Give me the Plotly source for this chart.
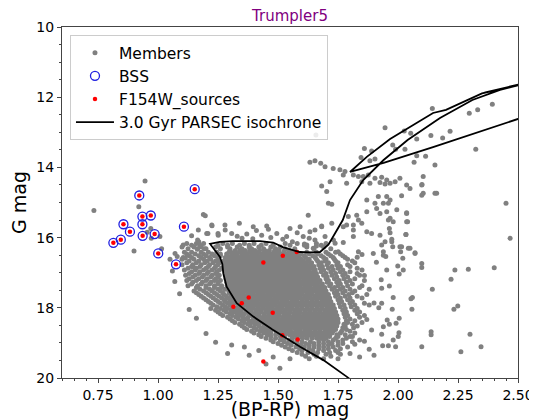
import plotly.graph_objects as go

# ---------------- data ----------------
# Blue stragglers
bss_bp = [0.922, 1.153, 0.935, 0.970, 0.856, 0.935, 1.108, 0.883, 0.986, 0.936, 0.845, 0.814, 1.001, 1.075]
bss_g = [14.80, 14.62, 15.40, 15.37, 15.62, 15.62, 15.69, 15.83, 15.90, 15.95, 16.06, 16.15, 16.45, 16.76]

# F154W sources that are not BSS
f154_extra_bp = [1.520, 1.578, 1.439, 1.378, 1.314, 1.349, 1.478, 1.518, 1.582, 1.439]
f154_extra_g = [16.52, 16.41, 16.71, 17.71, 17.97, 17.87, 18.14, 18.78, 18.90, 19.53]

# Solid part of the main-sequence / turn-off cloud (one row per magnitude band)
solid_rows = [
    (16.37, [1.30, 1.322, 1.341, 1.363, 1.382, 1.404, 1.423, 1.445, 1.464, 1.486, 1.505, 1.527, 1.548]),
    (16.47, [1.286, 1.308, 1.327, 1.349, 1.368, 1.39, 1.409, 1.431, 1.45, 1.472, 1.491, 1.513, 1.532, 1.554, 1.575]),
    (16.57, [1.28, 1.299, 1.321, 1.34, 1.362, 1.381, 1.403, 1.422, 1.444, 1.463, 1.485, 1.504, 1.526, 1.545, 1.567, 1.589]),
    (16.67, [1.275, 1.297, 1.316, 1.338, 1.357, 1.379, 1.398, 1.42, 1.439, 1.461, 1.48, 1.502, 1.521, 1.543, 1.562, 1.584, 1.606]),
    (16.77, [1.276, 1.295, 1.317, 1.336, 1.358, 1.377, 1.399, 1.418, 1.44, 1.459, 1.481, 1.50, 1.522, 1.541, 1.563, 1.582, 1.604, 1.62]),
    (16.87, [1.279, 1.301, 1.32, 1.342, 1.361, 1.383, 1.402, 1.424, 1.443, 1.465, 1.484, 1.506, 1.525, 1.547, 1.566, 1.588, 1.607, 1.627]),
    (16.97, [1.28, 1.299, 1.321, 1.34, 1.362, 1.381, 1.403, 1.422, 1.444, 1.463, 1.485, 1.504, 1.526, 1.545, 1.567, 1.586, 1.608, 1.632]),
    (17.07, [1.281, 1.303, 1.322, 1.344, 1.363, 1.385, 1.404, 1.426, 1.445, 1.467, 1.486, 1.508, 1.527, 1.549, 1.568, 1.59, 1.609, 1.631, 1.64]),
    (17.17, [1.283, 1.302, 1.324, 1.343, 1.365, 1.384, 1.406, 1.425, 1.447, 1.466, 1.488, 1.507, 1.529, 1.548, 1.57, 1.589, 1.611, 1.63, 1.646]),
    (17.27, [1.286, 1.308, 1.327, 1.349, 1.368, 1.39, 1.409, 1.431, 1.45, 1.472, 1.491, 1.513, 1.532, 1.554, 1.573, 1.595, 1.614, 1.636, 1.655]),
    (17.37, [1.288, 1.307, 1.329, 1.348, 1.37, 1.389, 1.411, 1.43, 1.452, 1.471, 1.493, 1.512, 1.534, 1.553, 1.575, 1.594, 1.616, 1.635, 1.657, 1.665]),
    (17.47, [1.291, 1.313, 1.332, 1.354, 1.373, 1.395, 1.414, 1.436, 1.455, 1.477, 1.496, 1.518, 1.537, 1.559, 1.578, 1.60, 1.619, 1.641, 1.66, 1.675]),
    (17.57, [1.296, 1.315, 1.337, 1.356, 1.378, 1.397, 1.419, 1.438, 1.46, 1.479, 1.501, 1.52, 1.542, 1.561, 1.583, 1.602, 1.624, 1.643, 1.665, 1.683]),
    (17.67, [1.305, 1.327, 1.346, 1.368, 1.387, 1.409, 1.428, 1.45, 1.469, 1.491, 1.51, 1.532, 1.551, 1.573, 1.592, 1.614, 1.633, 1.655, 1.674, 1.69]),
    (17.77, [1.315, 1.334, 1.356, 1.375, 1.397, 1.416, 1.438, 1.457, 1.479, 1.498, 1.52, 1.539, 1.561, 1.58, 1.602, 1.621, 1.643, 1.662, 1.684, 1.70]),
    (17.87, [1.325, 1.347, 1.366, 1.388, 1.407, 1.429, 1.448, 1.47, 1.489, 1.511, 1.53, 1.552, 1.571, 1.593, 1.612, 1.634, 1.653, 1.675, 1.694, 1.705]),
    (17.97, [1.335, 1.354, 1.376, 1.395, 1.417, 1.436, 1.458, 1.477, 1.499, 1.518, 1.54, 1.559, 1.581, 1.60, 1.622, 1.641, 1.663, 1.682, 1.704, 1.71]),
    (18.07, [1.345, 1.367, 1.386, 1.408, 1.427, 1.449, 1.468, 1.49, 1.509, 1.531, 1.55, 1.572, 1.591, 1.613, 1.632, 1.654, 1.673, 1.695, 1.714]),
    (18.17, [1.36, 1.379, 1.401, 1.42, 1.442, 1.461, 1.483, 1.502, 1.524, 1.543, 1.565, 1.584, 1.606, 1.625, 1.647, 1.666, 1.688, 1.707, 1.725]),
    (18.27, [1.375, 1.397, 1.416, 1.438, 1.457, 1.479, 1.498, 1.52, 1.539, 1.561, 1.58, 1.602, 1.621, 1.643, 1.662, 1.684, 1.703, 1.725]),
    (18.37, [1.395, 1.414, 1.436, 1.455, 1.477, 1.496, 1.518, 1.537, 1.559, 1.578, 1.60, 1.619, 1.641, 1.66, 1.682, 1.701, 1.723, 1.73]),
    (18.47, [1.42, 1.442, 1.461, 1.483, 1.502, 1.524, 1.543, 1.565, 1.584, 1.606, 1.625, 1.647, 1.666, 1.688, 1.707, 1.728]),
    (18.57, [1.445, 1.464, 1.486, 1.505, 1.527, 1.546, 1.568, 1.587, 1.609, 1.628, 1.65, 1.669, 1.691, 1.71, 1.725]),
    (18.67, [1.47, 1.492, 1.511, 1.533, 1.552, 1.574, 1.593, 1.615, 1.634, 1.656, 1.675, 1.697, 1.715]),
    (18.77, [1.53, 1.549, 1.571, 1.59, 1.612, 1.631, 1.653, 1.672, 1.694, 1.705]),
    (18.87, [1.58, 1.602, 1.621, 1.643, 1.662, 1.68]),
]

# Interleaved bands of the solid part
solid_rows_b = [
    (16.42, [1.296, 1.317, 1.339, 1.358, 1.381, 1.401, 1.42, 1.443, 1.462, 1.484, 1.503, 1.525, 1.546, 1.563]),
    (16.52, [1.29, 1.311, 1.33, 1.352, 1.373, 1.392, 1.414, 1.435, 1.454, 1.476, 1.497, 1.516, 1.538, 1.559, 1.58]),
    (16.62, [1.285, 1.306, 1.328, 1.347, 1.369, 1.39, 1.409, 1.431, 1.452, 1.471, 1.493, 1.514, 1.533, 1.555, 1.576, 1.597]),
    (16.72, [1.283, 1.304, 1.326, 1.345, 1.367, 1.388, 1.407, 1.429, 1.45, 1.469, 1.491, 1.512, 1.531, 1.553, 1.574, 1.593, 1.613]),
    (16.82, [1.285, 1.308, 1.329, 1.349, 1.37, 1.391, 1.411, 1.432, 1.453, 1.473, 1.494, 1.515, 1.535, 1.556, 1.577, 1.597, 1.617]),
    (16.92, [1.288, 1.309, 1.331, 1.351, 1.372, 1.393, 1.413, 1.434, 1.455, 1.475, 1.496, 1.517, 1.537, 1.558, 1.579, 1.599, 1.62]),
    (17.02, [1.29, 1.312, 1.333, 1.353, 1.374, 1.395, 1.415, 1.436, 1.457, 1.477, 1.498, 1.519, 1.539, 1.56, 1.581, 1.601, 1.622, 1.636]),
    (17.12, [1.292, 1.313, 1.334, 1.355, 1.376, 1.396, 1.417, 1.438, 1.458, 1.479, 1.50, 1.52, 1.541, 1.562, 1.582, 1.603, 1.624, 1.642]),
    (17.22, [1.294, 1.316, 1.337, 1.357, 1.378, 1.399, 1.419, 1.44, 1.461, 1.481, 1.502, 1.523, 1.543, 1.564, 1.585, 1.605, 1.626, 1.647]),
    (17.32, [1.297, 1.318, 1.339, 1.36, 1.381, 1.401, 1.422, 1.443, 1.463, 1.484, 1.505, 1.525, 1.546, 1.567, 1.587, 1.608, 1.629, 1.65]),
    (17.42, [1.30, 1.321, 1.342, 1.363, 1.383, 1.404, 1.425, 1.445, 1.466, 1.487, 1.507, 1.528, 1.549, 1.569, 1.59, 1.611, 1.631, 1.652, 1.67]),
    (17.52, [1.303, 1.324, 1.345, 1.366, 1.386, 1.407, 1.428, 1.448, 1.469, 1.49, 1.51, 1.531, 1.552, 1.572, 1.593, 1.614, 1.634, 1.655, 1.676]),
    (17.62, [1.31, 1.331, 1.352, 1.373, 1.393, 1.414, 1.435, 1.455, 1.476, 1.497, 1.517, 1.538, 1.559, 1.579, 1.60, 1.621, 1.641, 1.662, 1.683]),
    (17.72, [1.32, 1.341, 1.362, 1.382, 1.403, 1.424, 1.444, 1.465, 1.486, 1.506, 1.527, 1.548, 1.568, 1.589, 1.61, 1.63, 1.651, 1.672, 1.693]),
    (17.82, [1.33, 1.351, 1.372, 1.392, 1.413, 1.434, 1.454, 1.475, 1.496, 1.516, 1.537, 1.558, 1.578, 1.599, 1.62, 1.64, 1.661, 1.682, 1.70]),
    (17.92, [1.34, 1.361, 1.382, 1.402, 1.423, 1.444, 1.464, 1.485, 1.506, 1.526, 1.547, 1.568, 1.588, 1.609, 1.63, 1.65, 1.671, 1.692, 1.708]),
    (18.02, [1.352, 1.373, 1.393, 1.414, 1.435, 1.455, 1.476, 1.497, 1.517, 1.538, 1.559, 1.579, 1.60, 1.621, 1.641, 1.662, 1.683, 1.703, 1.716]),
    (18.12, [1.366, 1.387, 1.407, 1.428, 1.449, 1.469, 1.49, 1.511, 1.531, 1.552, 1.573, 1.593, 1.614, 1.635, 1.655, 1.676, 1.697, 1.717]),
    (18.22, [1.381, 1.402, 1.422, 1.443, 1.464, 1.484, 1.505, 1.526, 1.546, 1.567, 1.588, 1.608, 1.629, 1.65, 1.67, 1.691, 1.712, 1.727]),
    (18.32, [1.40, 1.421, 1.441, 1.462, 1.483, 1.503, 1.524, 1.545, 1.565, 1.586, 1.607, 1.627, 1.648, 1.669, 1.689, 1.71, 1.728]),
    (18.42, [1.425, 1.446, 1.466, 1.487, 1.508, 1.528, 1.549, 1.57, 1.59, 1.611, 1.632, 1.652, 1.673, 1.694, 1.714]),
    (18.52, [1.45, 1.471, 1.491, 1.512, 1.533, 1.553, 1.574, 1.595, 1.615, 1.636, 1.657, 1.677, 1.698, 1.719]),
    (18.62, [1.49, 1.511, 1.531, 1.552, 1.573, 1.593, 1.614, 1.635, 1.655, 1.676, 1.697, 1.712]),
    (18.72, [1.52, 1.54, 1.561, 1.582, 1.602, 1.623, 1.644, 1.664, 1.685, 1.703]),
    (18.82, [1.56, 1.58, 1.601, 1.622, 1.642, 1.663, 1.684, 1.695]),
]

# Speckled outer parts of the same cloud
speckle_rows = [
    (16.17, [1.12, 1.16, 1.19, 1.27, 1.31, 1.36, 1.40, 1.45, 1.53, 1.58, 1.66, 1.70]),
    (16.27, [1.10, 1.15, 1.18, 1.24, 1.29, 1.33, 1.38, 1.42, 1.47, 1.51, 1.62, 1.69]),
    (16.42, [1.11, 1.14, 1.18, 1.21, 1.245, 1.58, 1.62, 1.66, 1.70, 1.74]),
    (16.52, [1.13, 1.17, 1.20, 1.235, 1.26, 1.61, 1.645, 1.68, 1.72, 1.77]),
    (16.62, [1.10, 1.15, 1.19, 1.22, 1.25, 1.63, 1.66, 1.70, 1.735, 1.79]),
    (16.72, [1.12, 1.16, 1.195, 1.23, 1.255, 1.64, 1.68, 1.71, 1.75, 1.82]),
    (16.82, [1.14, 1.175, 1.21, 1.24, 1.65, 1.685, 1.725, 1.76, 1.80]),
    (16.92, [1.11, 1.155, 1.19, 1.225, 1.255, 1.655, 1.69, 1.73, 1.77, 1.85]),
    (17.02, [1.13, 1.17, 1.205, 1.24, 1.66, 1.70, 1.74, 1.78, 1.83]),
    (17.12, [1.145, 1.185, 1.22, 1.25, 1.665, 1.705, 1.745, 1.79]),
    (17.22, [1.12, 1.16, 1.20, 1.235, 1.26, 1.675, 1.71, 1.755, 1.80, 1.86]),
    (17.32, [1.14, 1.18, 1.215, 1.25, 1.685, 1.72, 1.76, 1.81]),
    (17.42, [1.16, 1.20, 1.235, 1.265, 1.695, 1.735, 1.77, 1.84]),
    (17.52, [1.15, 1.19, 1.225, 1.26, 1.70, 1.745, 1.78, 1.82]),
    (17.62, [1.17, 1.21, 1.245, 1.275, 1.71, 1.75, 1.795, 1.87]),
    (17.72, [1.19, 1.23, 1.265, 1.29, 1.715, 1.76, 1.80, 1.85]),
    (17.82, [1.21, 1.25, 1.28, 1.30, 1.72, 1.765, 1.81]),
    (17.92, [1.23, 1.27, 1.30, 1.73, 1.775, 1.82, 1.88]),
    (18.02, [1.22, 1.26, 1.29, 1.32, 1.735, 1.78, 1.83]),
    (18.12, [1.25, 1.285, 1.315, 1.34, 1.74, 1.785, 1.84]),
    (18.22, [1.27, 1.31, 1.34, 1.745, 1.79, 1.86]),
    (18.32, [1.30, 1.335, 1.365, 1.75, 1.80]),
    (18.42, [1.32, 1.36, 1.39, 1.75, 1.79, 1.85]),
    (18.52, [1.35, 1.385, 1.42, 1.745, 1.78, 1.83]),
    (18.62, [1.37, 1.41, 1.44, 1.74, 1.785]),
    (18.72, [1.40, 1.44, 1.47, 1.50, 1.725, 1.76, 1.82]),
    (18.82, [1.43, 1.47, 1.51, 1.715, 1.75, 1.80]),
    (18.92, [1.47, 1.51, 1.545, 1.58, 1.69, 1.73, 1.77, 1.84]),
    (19.02, [1.50, 1.54, 1.58, 1.615, 1.65, 1.69, 1.725, 1.77]),
    (19.12, [1.53, 1.575, 1.61, 1.65, 1.69, 1.73, 1.79]),
    (19.22, [1.56, 1.60, 1.645, 1.69, 1.74]),
    (19.32, [1.60, 1.65, 1.70, 1.76]),
    (19.45, [1.63, 1.69, 1.75]),
]

# Second set of speckled bands, between the first ones
speckle_rows_b = [
    (16.22, [1.14, 1.175, 1.25, 1.29, 1.34, 1.38, 1.43, 1.48, 1.55, 1.61, 1.68]),
    (16.32, [1.125, 1.165, 1.20, 1.26, 1.30, 1.35, 1.39, 1.44, 1.49, 1.53, 1.57, 1.65, 1.72]),
    (16.47, [1.12, 1.155, 1.19, 1.225, 1.26, 1.595, 1.63, 1.665, 1.71, 1.76]),
    (16.57, [1.105, 1.14, 1.18, 1.215, 1.25, 1.615, 1.655, 1.69, 1.73, 1.78]),
    (16.67, [1.13, 1.17, 1.205, 1.24, 1.625, 1.665, 1.695, 1.74, 1.81]),
    (16.77, [1.10, 1.145, 1.18, 1.215, 1.25, 1.635, 1.67, 1.705, 1.745, 1.79]),
    (16.87, [1.125, 1.16, 1.20, 1.235, 1.265, 1.64, 1.675, 1.71, 1.75, 1.83]),
    (16.97, [1.14, 1.175, 1.21, 1.245, 1.65, 1.68, 1.72, 1.76, 1.80]),
    (17.07, [1.115, 1.155, 1.19, 1.225, 1.255, 1.655, 1.69, 1.725, 1.77, 1.84]),
    (17.17, [1.13, 1.17, 1.205, 1.24, 1.66, 1.70, 1.735, 1.775, 1.82]),
    (17.27, [1.145, 1.185, 1.22, 1.25, 1.67, 1.705, 1.745, 1.785]),
    (17.37, [1.125, 1.165, 1.20, 1.235, 1.265, 1.68, 1.715, 1.75, 1.79, 1.85]),
    (17.47, [1.175, 1.215, 1.25, 1.28, 1.69, 1.725, 1.76, 1.80]),
    (17.57, [1.16, 1.20, 1.235, 1.27, 1.695, 1.735, 1.77, 1.81]),
    (17.67, [1.18, 1.22, 1.255, 1.285, 1.70, 1.74, 1.78, 1.83]),
    (17.77, [1.20, 1.24, 1.275, 1.30, 1.71, 1.75, 1.79]),
    (17.87, [1.22, 1.26, 1.29, 1.315, 1.715, 1.755, 1.80, 1.86]),
    (17.97, [1.245, 1.28, 1.31, 1.72, 1.76, 1.805]),
    (18.07, [1.24, 1.275, 1.305, 1.33, 1.725, 1.77, 1.82]),
    (18.17, [1.26, 1.30, 1.33, 1.35, 1.735, 1.775, 1.83]),
    (18.27, [1.29, 1.325, 1.355, 1.74, 1.78, 1.84]),
    (18.37, [1.31, 1.35, 1.38, 1.74, 1.785, 1.82]),
    (18.47, [1.34, 1.375, 1.405, 1.74, 1.775, 1.81]),
    (18.57, [1.36, 1.40, 1.43, 1.735, 1.77, 1.815]),
    (18.67, [1.39, 1.425, 1.455, 1.73, 1.765, 1.80]),
    (18.77, [1.42, 1.455, 1.49, 1.515, 1.715, 1.745, 1.78]),
    (18.87, [1.45, 1.49, 1.525, 1.56, 1.70, 1.74, 1.785]),
    (18.97, [1.48, 1.525, 1.56, 1.60, 1.635, 1.67, 1.71, 1.75, 1.81]),
    (19.07, [1.515, 1.555, 1.595, 1.63, 1.67, 1.71, 1.75]),
    (19.17, [1.545, 1.59, 1.63, 1.67, 1.71, 1.76]),
    (19.27, [1.58, 1.625, 1.665, 1.715, 1.75]),
    (19.38, [1.615, 1.66, 1.72]),
]

# Sparse members: blue region, above sub-giant branch, giants, field and halo
blue_members = [(0.946, 14.39), (0.733, 15.23), (0.92, 15.12), (0.97, 15.74), (0.955, 15.85), (1.008, 15.97),
                (0.972, 16.02), (0.90, 16.38), (1.015, 16.32), (1.071, 16.45), (1.08, 16.54), (1.114, 16.58),
                (1.105, 16.21), (1.189, 15.34), (1.197, 15.38), (1.225, 15.66), (1.168, 15.78), (1.165, 16.07),
                (1.208, 15.88), (1.25, 15.88), (1.193, 16.32), (1.164, 16.33), (1.147, 16.83)]

subgiant_members = [(1.224, 15.64), (1.279, 15.64), (1.339, 15.59), (1.397, 15.69), (1.453, 15.67), (1.55, 15.74),
                    (1.592, 15.69), (1.633, 15.83), (1.682, 15.67), (1.724, 15.59), (1.786, 15.64), (1.814, 15.78),
                    (1.203, 15.88), (1.251, 15.93), (1.307, 15.88), (1.37, 15.90), (1.432, 15.93), (1.495, 15.88),
                    (1.536, 15.97), (1.605, 15.97), (1.654, 16.07), (1.696, 15.97), (1.731, 16.07), (1.35, 16.02),
                    (1.47, 16.00), (1.56, 16.12), (1.61, 16.18), (1.66, 16.24), (1.52, 16.05), (1.28, 15.78),
                    (1.41, 15.80), (1.58, 15.86), (1.46, 15.76), (1.33, 15.96), (1.63, 16.02), (1.14, 15.95),
                    (1.17, 16.12), (1.395, 16.03)]

giant_members = [(2.143, 12.32), (2.297, 12.46), (2.332, 12.36), (2.393, 12.20), (1.946, 12.87), (2.026, 12.96),
                 (2.053, 13.03), (2.078, 13.19), (2.137, 13.09), (2.186, 13.16), (2.217, 12.97), (2.324, 13.48),
                 (1.658, 13.08), (1.86, 13.46), (1.89, 13.53), (1.978, 13.36), (1.99, 13.48), (2.029, 13.48),
                 (1.846, 13.72), (1.883, 13.81), (1.904, 13.76), (2.078, 13.67), (2.115, 13.68), (2.154, 13.93),
                 (2.067, 13.85), (1.633, 13.85), (1.654, 13.81), (1.678, 13.88), (1.696, 13.98), (1.73, 14.03),
                 (1.758, 14.07), (1.779, 14.12), (1.814, 14.22), (1.835, 14.26), (1.855, 14.26), (1.876, 14.22),
                 (1.904, 14.31), (1.932, 14.28), (1.953, 14.36), (1.967, 14.45), (1.988, 14.41), (2.008, 14.31),
                 (1.946, 14.47), (1.925, 14.43), (1.849, 14.41), (1.883, 14.45), (1.786, 14.45), (1.772, 14.22),
                 (2.036, 14.50), (2.05, 14.60), (2.099, 14.50), (2.105, 14.26), (2.154, 14.74), (2.161, 14.74),
                 (1.682, 14.53), (1.717, 14.41), (1.703, 14.69), (1.71, 15.02), (1.724, 15.05), (1.626, 15.36),
                 (1.793, 15.40), (1.828, 15.36), (1.835, 15.50), (1.87, 15.26), (1.911, 15.17), (1.925, 15.31),
                 (1.96, 15.02), (1.967, 14.93), (1.904, 15.02), (1.87, 14.93), (1.918, 14.83), (1.953, 14.83),
                 (1.995, 15.21), (2.036, 15.31), (2.036, 15.55), (1.967, 15.45), (1.772, 15.69), (1.814, 15.64),
                 (1.849, 15.59), (1.87, 15.83), (1.814, 15.97), (1.772, 16.14), (1.89, 15.88), (1.925, 15.93),
                 (1.932, 16.21), (1.974, 16.12), (2.008, 16.26), (2.033, 15.91), (2.071, 16.43), (2.05, 16.30),
                 (2.105, 14.74), (1.62, 16.21), (1.647, 16.30), (1.682, 15.69), (1.654, 15.78), (1.738, 16.16),
                 (1.751, 16.40), (1.835, 16.40), (1.897, 16.45), (1.939, 16.50)]

field_members = [(2.45, 15.02), (2.467, 16.02), (2.10, 14.49), (2.099, 14.79), (2.015, 14.81), (2.036, 15.29),
                 (2.04, 15.55), (1.953, 15.26), (1.939, 15.02), (1.96, 15.50), (1.98, 15.55), (1.964, 15.74),
                 (1.967, 15.86), (2.033, 15.91), (1.974, 16.05), (1.946, 16.12), (1.978, 16.26), (2.015, 16.26),
                 (2.043, 16.30), (2.011, 16.40), (2.02, 16.59), (2.071, 16.45), (1.939, 16.40), (1.949, 16.54),
                 (2.099, 16.74), (2.099, 16.85), (1.953, 16.92), (1.999, 16.81), (2.022, 16.92), (2.005, 17.04),
                 (2.237, 16.92), (2.293, 16.90), (2.401, 16.86), (2.221, 17.19), (2.143, 17.47), (1.932, 17.44),
                 (1.964, 17.38), (1.98, 17.71), (2.054, 17.74), (2.06, 17.71), (2.058, 18.04), (1.976, 18.04),
                 (2.233, 18.04), (2.249, 17.95), (1.932, 17.87), (1.955, 18.35), (1.964, 18.47), (1.939, 18.54),
                 (1.992, 18.44), (2.005, 18.30), (2.004, 18.71), (2.001, 18.82), (1.98, 18.92), (1.932, 18.75),
                 (1.936, 19.08), (1.96, 19.08), (1.99, 19.11), (2.099, 19.11), (2.138, 18.68), (2.138, 18.77),
                 (2.30, 18.75), (2.346, 19.11), (2.262, 19.25)]

halo_members = [(1.83, 16.56), (1.86, 17.08), (1.88, 17.47), (1.90, 17.86), (1.87, 18.33), (1.89, 18.63),
                (1.86, 18.95), (1.82, 19.04), (1.88, 19.18), (1.80, 19.30), (1.91, 16.70), (1.93, 17.20),
                (1.92, 18.00), (1.85, 16.48), (1.81, 18.82), (1.84, 19.40), (1.90, 19.35), (1.07, 17.25),
                (1.09, 17.60), (1.13, 18.05), (1.16, 18.30), (1.20, 18.73), (1.24, 18.98), (1.307, 19.06),
                (1.29, 19.30), (1.38, 19.35), (1.45, 19.60), (1.508, 19.72), (1.36, 19.12), (1.06, 16.95),
                (1.05, 16.62), (1.42, 19.22), (1.48, 19.40), (1.55, 19.45)]

# 3.0 Gyr PARSEC isochrone (MS -> turn-off hook -> SGB -> RGB, then clump -> AGB)
iso_bp = [1.83, 1.786, 1.689, 1.592, 1.48, 1.397, 1.328, 1.286, 1.272, 1.268, 1.258, 1.235, 1.217,
          1.258, 1.312, 1.425, 1.48, 1.52, 1.59, 1.633, 1.675, 1.71, 1.745, 1.77, 1.80, 1.855, 1.94,
          2.04, 2.175, 2.31, 2.425, 2.50, 2.60, 2.65, 2.65, 2.50, 2.146, 1.94, 1.80,
          1.87, 1.967, 2.05, 2.146, 2.20, 2.26, 2.35, 2.50, 2.65, 2.36]
iso_g = [20.20, 19.96, 19.49, 19.11, 18.63, 18.25, 17.87, 17.40, 17.02, 16.75, 16.55, 16.35, 16.18,
         16.12, 16.10, 16.10, 16.14, 16.27, 16.41, 16.42, 16.41, 16.20, 15.78, 15.50, 14.93, 14.36, 13.79,
         13.22, 12.59, 12.08, 11.79, 11.65, 11.48, 11.40, 12.30, 12.62, 13.42, 13.87, 14.13,
         13.70, 13.19, 12.85, 12.45, 12.36, 12.17, 11.89, 11.66, 11.40, 11.87]

# ---------------- assemble members ----------------
mem_bp, mem_g = [], []
for rows in (speckle_rows, speckle_rows_b, solid_rows, solid_rows_b):
    for g, row in rows:
        for b in row:
            mem_bp.append(b)
            mem_g.append(g)
for group in (blue_members, subgiant_members, giant_members, field_members, halo_members):
    for b, g in group:
        mem_bp.append(b)
        mem_g.append(g)

f154_bp = bss_bp + f154_extra_bp
f154_g = bss_g + f154_extra_g

fig = go.Figure()
fig.add_trace(go.Scatter(x=mem_bp, y=mem_g, mode="markers", name="Members",
                         marker=dict(color="#808080", size=5, line=dict(width=0))))
fig.add_trace(go.Scatter(x=bss_bp, y=bss_g, mode="markers", name="BSS",
                         marker=dict(color="rgba(0,0,0,0)", size=9, line=dict(color="#2020e0", width=1.3))))
fig.add_trace(go.Scatter(x=f154_bp, y=f154_g, mode="markers", name="F154W_sources",
                         marker=dict(color="red", size=4.5, line=dict(width=0))))
fig.add_trace(go.Scatter(x=iso_bp, y=iso_g, mode="lines", name="3.0 Gyr PARSEC isochrone",
                         line=dict(color="black", width=1.8)))

axis_common = dict(showline=True, linecolor="#444", linewidth=1, mirror=True, showgrid=False,
                   zeroline=False, ticks="outside", ticklen=4, tickcolor="#444", automargin=False,
                   tickfont=dict(size=14, color="black"))

# The page adds an 8 px body margin, so the figure is sized to the remaining window.
fig.update_layout(
    width=529, height=412,
    margin=dict(l=54, r=19, t=19, b=42),
    paper_bgcolor="white", plot_bgcolor="white",
    font=dict(family="DejaVu Sans", size=14, color="black"),
    title=dict(text="Trumpler5", font=dict(size=15, color="purple"), x=0.5, xref="paper",
               xanchor="center", y=0.982, yref="container", yanchor="middle", automargin=False),
    legend=dict(x=0.0175, y=0.977, xanchor="left", yanchor="top", bordercolor="#cccccc",
                borderwidth=1, bgcolor="rgba(255,255,255,0.85)", font=dict(size=15.5),
                tracegroupgap=0, itemwidth=38),
    showlegend=True,
)
fig.update_xaxes(range=[0.6, 2.5], tickmode="linear", tick0=0.0, dtick=0.25, tickformat=".2f",
                 minor=dict(dtick=0.05, ticks="outside", ticklen=2, tickcolor="#444"),
                 title=dict(text="(BP-RP) mag", font=dict(size=19), standoff=5), **axis_common)
fig.update_yaxes(range=[20, 10], tickmode="linear", tick0=10, dtick=2,
                 minor=dict(dtick=0.5, ticks="outside", ticklen=2, tickcolor="#444"),
                 title=dict(text="G mag", font=dict(size=19), standoff=6), **axis_common)

fig.write_html("out.html")
